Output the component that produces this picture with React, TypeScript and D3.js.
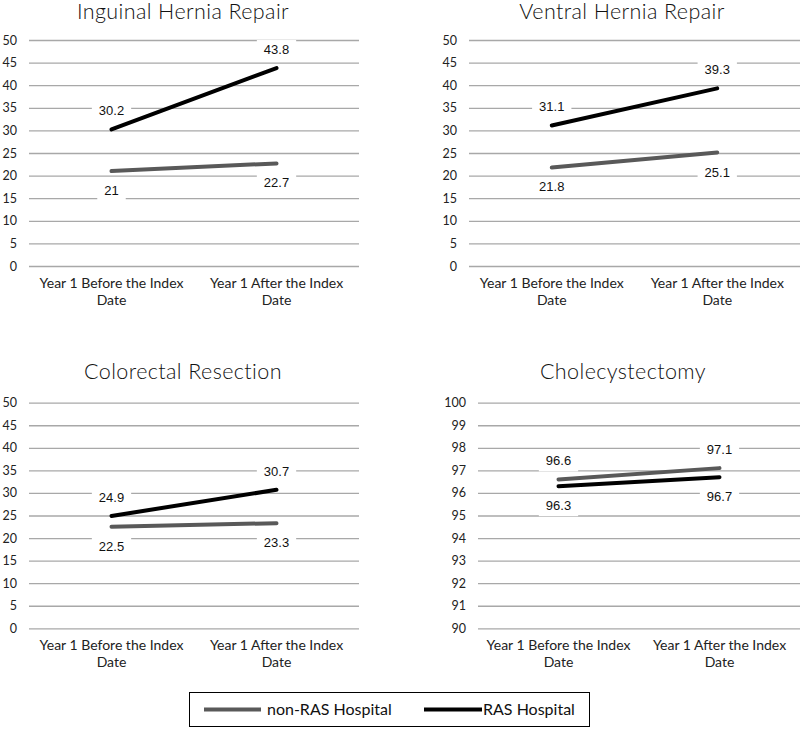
import * as d3 from "d3";
import { useEffect, useRef } from "react";

const WIDTH = 800;
const HEIGHT = 729;

// Data
const titles = [
  "Inguinal Hernia Repair",
  "Ventral Hernia Repair",
  "Colorectal Resection",
  "Cholecystectomy",
];
const categories = ["Year 1 Before the Index Date", "Year 1 After the Index Date"];
const categoryLines = [
  ["Year 1 Before the Index", "Date"],
  ["Year 1 After the Index", "Date"],
];
const nonRasValues = [
  [21, 22.7],
  [21.8, 25.1],
  [22.5, 23.3],
  [96.6, 97.1],
];
const rasValues = [
  [30.2, 43.8],
  [31.1, 39.3],
  [24.9, 30.7],
  [96.3, 96.7],
];
const yDomains: [number, number][] = [
  [0, 50],
  [0, 50],
  [0, 50],
  [90, 100],
];
const yTickSteps = [5, 5, 5, 1];
const seriesNames = ["non-RAS Hospital", "RAS Hospital"];

// Layout per panel (pixels)
const panelLayout = [
  { left: 29, right: 359, top: 40, bottom: 266, titleX: 183, titleY: 18.5 },
  { left: 469, right: 800, top: 40, bottom: 266, titleX: 622, titleY: 18.5 },
  { left: 29, right: 359, top: 402.7, bottom: 628.3, titleX: 183, titleY: 379 },
  { left: 478, right: 800, top: 402.7, bottom: 628.3, titleX: 623, titleY: 379 },
];

const seriesColors = ["#595959", "#000000"];
const gridColor = "#a8a8a8";
const geo = "Lato, 'Noto Sans', sans-serif";
const labelFont = "'Liberation Sans', Arial, sans-serif";

export default function App() {
  const svgRef = useRef<SVGSVGElement>(null);

  useEffect(() => {
    if (!svgRef.current) return;
    const svg = d3.select(svgRef.current);
    svg.selectAll("*").remove();

    svg.append("rect").attr("width", WIDTH).attr("height", HEIGHT).attr("fill", "#fff");

    panelLayout.forEach((p, i) => {
      const g = svg.append("g");
      const [y0, y1] = yDomains[i];

      const x = d3
        .scalePoint<string>()
        .domain(categories)
        .range([p.left, p.right])
        .padding(0.5);

      const y = d3.scaleLinear().domain([y0, y1]).range([p.bottom, p.top]);
      const ticks = d3.range(y0, y1 + 0.001, yTickSteps[i]);

      // Gridlines + y tick labels
      g.append("g")
        .attr("transform", `translate(${p.left},0)`)
        .call(
          d3
            .axisLeft(y)
            .tickValues(ticks)
            .tickSize(-(p.right - p.left))
            .tickPadding(12)
            .tickFormat(d3.format("d")),
        )
        .call((a) => a.select(".domain").remove())
        .call((a) =>
          a.selectAll(".tick line").attr("stroke", gridColor).attr("stroke-width", 1.3),
        )
        .call((a) =>
          a
            .selectAll(".tick text")
            .attr("fill", "#222")
            .style("font-family", geo)
            .style("font-size", "12.5px"),
        );

      // Title
      g.append("text")
        .attr("x", p.titleX)
        .attr("y", p.titleY)
        .attr("text-anchor", "middle")
        .style("font-family", geo)
        .style("font-size", "21.5px")
        .style("font-weight", 300)
        .style("letter-spacing", "0.4px")
        .style("fill", "#111")
        .text(titles[i]);

      // Category labels
      categories.forEach((c, ci) => {
        const t = g
          .append("text")
          .attr("text-anchor", "middle")
          .style("font-family", geo)
          .style("font-size", "14px")
          .style("fill", "#222");
        categoryLines[ci].forEach((line, li) => {
          t.append("tspan")
            .attr("x", x(c)!)
            .attr("y", p.bottom + 22 + li * 17)
            .text(line);
        });
      });

      const series = [nonRasValues[i], rasValues[i]];
      // the upper series gets its labels above, the lower one below
      const topIdx = d3.mean(series[0])! > d3.mean(series[1])! ? 0 : 1;

      const labels: { x: number; y: number; text: string }[] = [];
      series.forEach((vals, si) => {
        vals.forEach((v, vi) => {
          const px = x(categories[vi])!;
          const py = y(v);
          const baseline = si === topIdx ? py - 14 : py + 24;
          labels.push({ x: px, y: baseline, text: String(v) });
        });
      });

      // Label backgrounds (cut gridlines)
      const labelG = g.append("g");
      const texts = labels.map((l) =>
        labelG
          .append("text")
          .attr("x", l.x)
          .attr("y", l.y)
          .attr("text-anchor", "middle")
          .style("font-family", labelFont)
          .style("font-size", "13px")
          .style("fill", "#111")
          .text(l.text),
      );
      texts.forEach((t, ti) => {
        const w = (t.node() as SVGTextElement).getComputedTextLength();
        g.insert("rect", () => labelG.node())
          .attr("x", labels[ti].x - w / 2 - 7)
          .attr("y", labels[ti].y - 14)
          .attr("width", w + 14)
          .attr("height", 20)
          .attr("fill", "#fff");
      });

      // Lines
      const line = d3
        .line<number>()
        .x((_, vi) => x(categories[vi])!)
        .y((v) => y(v));
      series.forEach((vals, si) => {
        g.insert("path", () => labelG.node())
          .datum(vals)
          .attr("d", line)
          .attr("fill", "none")
          .attr("stroke", seriesColors[si])
          .attr("stroke-width", 4)
          .attr("stroke-linecap", "round");
      });
    });

    // Legend
    const legend = svg.append("g");
    legend
      .append("rect")
      .attr("x", 189.5)
      .attr("y", 692.5)
      .attr("width", 400)
      .attr("height", 34)
      .attr("fill", "#fff")
      .attr("stroke", "#000")
      .attr("stroke-width", 1);
    const legendItems = [
      { x1: 204, x2: 261, tx: 267 },
      { x1: 424, x2: 482, tx: 483 },
    ];
    legendItems.forEach((it, li) => {
      legend
        .append("line")
        .attr("x1", it.x1)
        .attr("x2", it.x2)
        .attr("y1", 709.5)
        .attr("y2", 709.5)
        .attr("stroke", seriesColors[li])
        .attr("stroke-width", 4);
      legend
        .append("text")
        .attr("x", it.tx)
        .attr("y", 715)
        .style("font-family", geo)
        .style("font-size", "16px")
        .style("fill", "#111")
        .text(seriesNames[li]);
    });
  }, []);

  return (
    <div style={{ position: "absolute", left: 0, top: 0 }}>
      <svg ref={svgRef} width={WIDTH} height={HEIGHT} style={{ display: "block" }} />
    </div>
  );
}
